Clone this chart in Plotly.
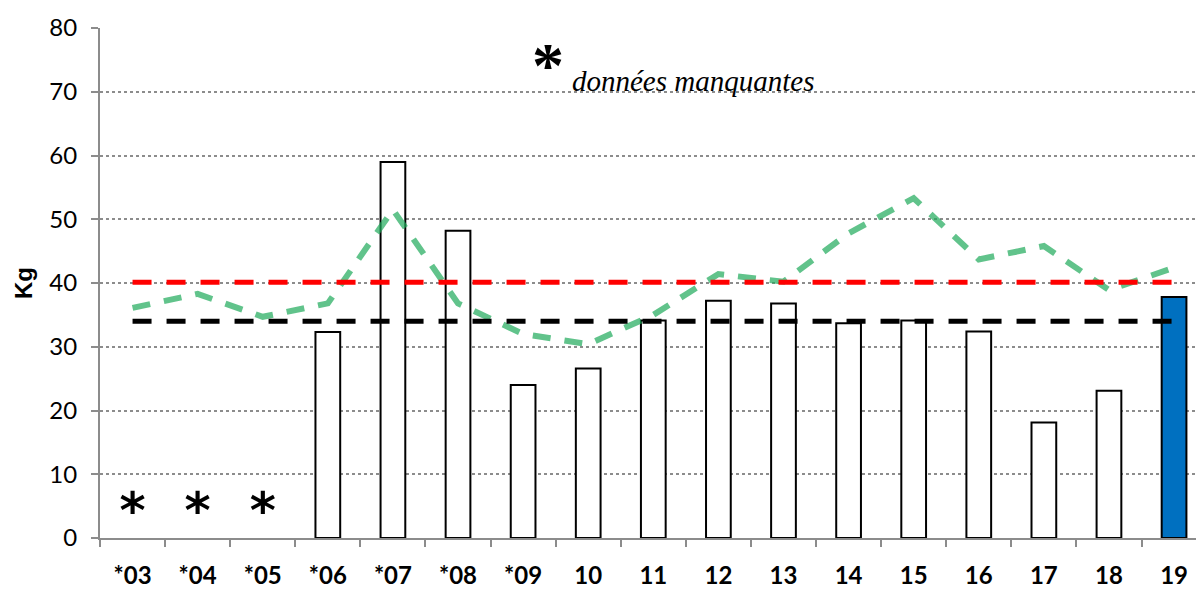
import plotly.graph_objects as go

categories = ["*03", "*04", "*05", "*06", "*07", "*08", "*09", "10", "11",
              "12", "13", "14", "15", "16", "17", "18", "19"]
bar_values = [None, None, None, 32.3, 59.0, 48.2, 24.0, 26.6, 34.1,
              37.2, 36.8, 33.7, 34.1, 32.4, 18.1, 23.1, 37.8]
green_values = [36.1, 38.3, 34.7, 36.8, 51.5, 36.8, 32.0, 30.4, 35.0,
                41.4, 40.2, 47.8, 53.3, 43.7, 45.8, 38.9, 42.4]
red_level = 40.1
black_level = 34.0
missing_categories = ["*03", "*04", "*05"]
missing_marker_y = 3.6
y_ticks = [0, 10, 20, 30, 40, 50, 60, 70, 80]

bar_colors = ["#0070C0" if c == categories[-1] else "white" for c in categories]

# page body has an 8px margin: size the figure so the plot area lands where the reference has it
OFF = 8
W, H = 1204 - OFF, 589 - OFF
ml, mr, mt, mb = 100 - OFF, 0, 28 - OFF, 51 - OFF
pw, ph = W - ml - mr, H - mt - mb

fig = go.Figure()
fig.add_trace(go.Bar(
    x=categories, y=bar_values,
    marker=dict(color=bar_colors, line=dict(color="black", width=2)),
    width=0.38, showlegend=False, hoverinfo="skip"))

fig.add_trace(go.Scatter(
    x=categories, y=green_values, mode="lines",
    line=dict(color="rgba(30,170,90,0.7)", width=6, dash="18px,14px"),
    showlegend=False))
fig.add_trace(go.Scatter(
    x=[categories[0], categories[-1]], y=[red_level, red_level], mode="lines",
    line=dict(color="#FF0000", width=5, dash="19px,15px"), showlegend=False))
fig.add_trace(go.Scatter(
    x=[categories[0], categories[-1]], y=[black_level, black_level], mode="lines",
    line=dict(color="black", width=5, dash="19px,15px"), showlegend=False))

fig.add_trace(go.Scatter(
    x=missing_categories, y=[missing_marker_y] * len(missing_categories),
    mode="text", text=["*"] * len(missing_categories),
    textfont=dict(family="DejaVu Sans", size=50, color="black", weight="bold"),
    textposition="middle center", showlegend=False))


def px_to_paper(x, y):
    return (x - OFF - ml) / pw, 1 - (y - OFF - mt) / ph


ax, ay = px_to_paper(548, 66)
fig.add_annotation(x=ax, y=ay, xref="paper", yref="paper", text="<b>*</b>",
                   showarrow=False, xanchor="center", yanchor="middle",
                   font=dict(family="Liberation Serif", size=64, color="black"))
tx, ty = px_to_paper(570, 82)
fig.add_annotation(x=tx, y=ty, xref="paper", yref="paper", text="<i>données manquantes</i>",
                   showarrow=False, xanchor="left", yanchor="middle",
                   font=dict(family="Liberation Serif", size=29, color="black"))

fig.update_layout(
    width=W, height=H,
    margin=dict(l=ml, r=mr, t=mt, b=mb),
    paper_bgcolor="white", plot_bgcolor="white",
    xaxis=dict(
        type="category", range=[-0.5, 16.46],
        showline=True, linecolor="#8c8c8c", linewidth=2,
        ticks="outside", tickson="boundaries", ticklen=7, tickcolor="#8c8c8c", tickwidth=2,
        showgrid=False,
        tickfont=dict(family="Lato", size=24, color="black", weight="bold"),
        ticklabelstandoff=15),
    yaxis=dict(
        range=[0, 80], tickvals=y_ticks,
        showline=True, linecolor="#8c8c8c", linewidth=2,
        ticks="outside", ticklen=7, tickcolor="#8c8c8c", tickwidth=2,
        showgrid=True, gridcolor="#8c8c8c", gridwidth=1.5, griddash="dot",
        zeroline=False,
        tickfont=dict(family="Lato", size=24, color="black"),
        ticklabelstandoff=9,
        title=dict(text="<b>Kg</b>", font=dict(family="Liberation Sans", size=24, color="black"),
                   standoff=10)),
)

fig.write_html("out.html")
